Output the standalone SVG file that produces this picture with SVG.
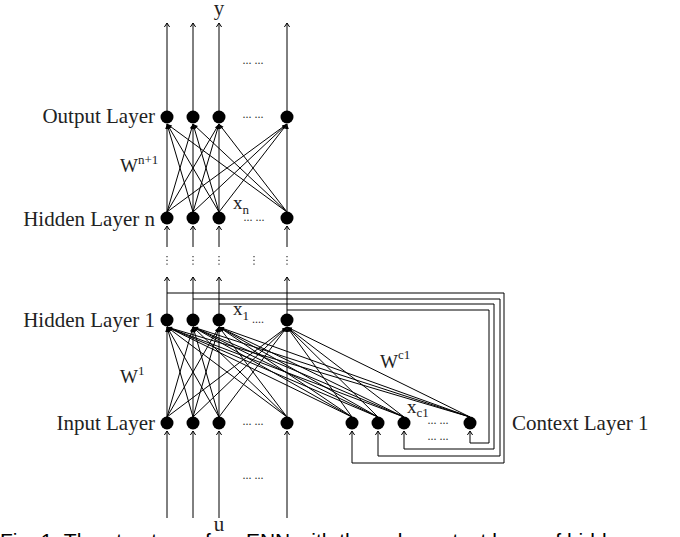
<svg xmlns="http://www.w3.org/2000/svg" width="680" height="537" viewBox="0 0 680 537">
<style>
.ln{stroke:#000;stroke-width:1;fill:none}
.nd{fill:#000}
.lbl{font-family:"Liberation Serif","Times New Roman",serif;font-size:21px;fill:#222}
.w{font-family:"Liberation Serif","Times New Roman",serif;font-size:19px;fill:#222}
.sup{font-size:13px}
.dots{font-family:"Liberation Serif",serif;font-size:12px;fill:#333}
.vd{stroke:#444;stroke-width:1.3;stroke-dasharray:1.3 2.4;fill:none}
.cap{font-family:"Liberation Sans",Arial,sans-serif;font-size:21px;fill:#000}
</style>
<defs>
<marker id="ao" viewBox="-6 -4 7 8" refX="0" refY="0" markerWidth="7" markerHeight="8" markerUnits="userSpaceOnUse" orient="auto">
<path d="M-4,-2.6 L0,0 L-4,2.6" stroke="#000" stroke-width="1" fill="none"/>
</marker>
<marker id="af" viewBox="-6 -3 7 6" refX="0" refY="0" markerWidth="7" markerHeight="6" markerUnits="userSpaceOnUse" orient="auto">
<path d="M-5,-1.8 L0,0 L-5,1.8 z" fill="#000"/>
</marker>
</defs>

<g id="connectors">
<g class="ln" marker-end="url(#ao)">
<line x1="167" y1="117" x2="167" y2="23"/>
<line x1="193" y1="117" x2="193" y2="23"/>
<line x1="219" y1="117" x2="219" y2="23"/>
<line x1="287" y1="117" x2="287" y2="23"/>
<line x1="167" y1="247" x2="167" y2="226"/>
<line x1="193" y1="247" x2="193" y2="226"/>
<line x1="219" y1="247" x2="219" y2="226"/>
<line x1="287" y1="247" x2="287" y2="226"/>
<line x1="167" y1="314" x2="167" y2="277"/>
<line x1="193" y1="314" x2="193" y2="277"/>
<line x1="219" y1="314" x2="219" y2="277"/>
<line x1="287" y1="314" x2="287" y2="277"/>
<line x1="167" y1="518" x2="167" y2="431"/>
<line x1="193" y1="518" x2="193" y2="431"/>
<line x1="219" y1="518" x2="219" y2="431"/>
<line x1="287" y1="518" x2="287" y2="431"/>
<polyline points="167,293 504,293 504,463 352,463 352,431"/>
<polyline points="193,299 500,299 500,456 378,456 378,431"/>
<polyline points="219,304 494,304 494,449 404,449 404,431"/>
<polyline points="287,310 489,310 489,443 470,443 470,431"/>
</g>
<g class="ln" marker-end="url(#af)">
<line x1="167" y1="212" x2="167" y2="124"/>
<line x1="167" y1="212" x2="193" y2="124"/>
<line x1="167" y1="212" x2="219" y2="124"/>
<line x1="167" y1="212" x2="287" y2="124"/>
<line x1="193" y1="212" x2="167" y2="124"/>
<line x1="193" y1="212" x2="193" y2="124"/>
<line x1="193" y1="212" x2="219" y2="124"/>
<line x1="193" y1="212" x2="287" y2="124"/>
<line x1="219" y1="212" x2="167" y2="124"/>
<line x1="219" y1="212" x2="193" y2="124"/>
<line x1="219" y1="212" x2="219" y2="124"/>
<line x1="219" y1="212" x2="287" y2="124"/>
<line x1="287" y1="212" x2="167" y2="124"/>
<line x1="287" y1="212" x2="193" y2="124"/>
<line x1="287" y1="212" x2="219" y2="124"/>
<line x1="287" y1="212" x2="287" y2="124"/>
<line x1="167" y1="417" x2="167" y2="327"/>
<line x1="167" y1="417" x2="193" y2="327"/>
<line x1="167" y1="417" x2="219" y2="327"/>
<line x1="167" y1="417" x2="287" y2="327"/>
<line x1="193" y1="417" x2="167" y2="327"/>
<line x1="193" y1="417" x2="193" y2="327"/>
<line x1="193" y1="417" x2="219" y2="327"/>
<line x1="193" y1="417" x2="287" y2="327"/>
<line x1="219" y1="417" x2="167" y2="327"/>
<line x1="219" y1="417" x2="193" y2="327"/>
<line x1="219" y1="417" x2="219" y2="327"/>
<line x1="219" y1="417" x2="287" y2="327"/>
<line x1="287" y1="417" x2="167" y2="327"/>
<line x1="287" y1="417" x2="193" y2="327"/>
<line x1="287" y1="417" x2="219" y2="327"/>
<line x1="287" y1="417" x2="287" y2="327"/>
<line x1="352" y1="417" x2="167" y2="327"/>
<line x1="352" y1="417" x2="193" y2="327"/>
<line x1="352" y1="417" x2="219" y2="327"/>
<line x1="352" y1="417" x2="287" y2="327"/>
<line x1="378" y1="417" x2="167" y2="327"/>
<line x1="378" y1="417" x2="193" y2="327"/>
<line x1="378" y1="417" x2="219" y2="327"/>
<line x1="378" y1="417" x2="287" y2="327"/>
<line x1="404" y1="417" x2="167" y2="327"/>
<line x1="404" y1="417" x2="193" y2="327"/>
<line x1="404" y1="417" x2="219" y2="327"/>
<line x1="404" y1="417" x2="287" y2="327"/>
<line x1="470" y1="417" x2="167" y2="327"/>
<line x1="470" y1="417" x2="193" y2="327"/>
<line x1="470" y1="417" x2="219" y2="327"/>
<line x1="470" y1="417" x2="287" y2="327"/>
</g>
</g>

<g id="output-layer">
<circle class="nd" cx="167" cy="117" r="6.5"/>
<circle class="nd" cx="193" cy="117" r="6.5"/>
<circle class="nd" cx="219" cy="117" r="6.5"/>
<circle class="nd" cx="287" cy="117" r="6.5"/>
<text class="lbl" x="155" y="123" text-anchor="end">Output Layer</text>
<text class="dots" x="253" y="118" text-anchor="middle">... ...</text>
<text class="dots" x="253" y="64" text-anchor="middle">... ...</text>
<text class="lbl" x="219" y="15" text-anchor="middle">y</text>
</g>

<g id="hidden-layer-n">
<circle class="nd" cx="167" cy="218" r="6.5"/>
<circle class="nd" cx="193" cy="218" r="6.5"/>
<circle class="nd" cx="219" cy="218" r="6.5"/>
<circle class="nd" cx="287" cy="218" r="6.5"/>
<text class="lbl" x="155" y="226" text-anchor="end">Hidden Layer n</text>
<text class="w" x="233" y="209">x<tspan class="sup" dy="5">n</tspan></text>
<text class="dots" x="254" y="221" text-anchor="middle">... ...</text>
<text class="w" x="120" y="172">W<tspan class="sup" dy="-8">n+1</tspan></text>
</g>

<g id="ellipsis">
<line class="vd" x1="167" y1="256" x2="167" y2="267"/>
<line class="vd" x1="193" y1="256" x2="193" y2="267"/>
<line class="vd" x1="219" y1="256" x2="219" y2="267"/>
<line class="vd" x1="254" y1="256" x2="254" y2="267"/>
<line class="vd" x1="287" y1="256" x2="287" y2="267"/>
</g>

<g id="hidden-layer-1">
<circle class="nd" cx="167" cy="320" r="6.5"/>
<circle class="nd" cx="193" cy="320" r="6.5"/>
<circle class="nd" cx="219" cy="320" r="6.5"/>
<circle class="nd" cx="287" cy="320" r="6.5"/>
<text class="lbl" x="155" y="327" text-anchor="end">Hidden Layer 1</text>
<text class="w" x="233" y="315">x<tspan class="sup" dy="5">1</tspan></text>
<text class="dots" x="258" y="323" text-anchor="middle">....</text>
<text class="w" x="120" y="383">W<tspan class="sup" dy="-8">1</tspan></text>
</g>

<g id="input-layer">
<circle class="nd" cx="167" cy="423" r="6.5"/>
<circle class="nd" cx="193" cy="423" r="6.5"/>
<circle class="nd" cx="219" cy="423" r="6.5"/>
<circle class="nd" cx="287" cy="423" r="6.5"/>
<text class="lbl" x="155" y="430" text-anchor="end">Input Layer</text>
<text class="dots" x="253" y="425" text-anchor="middle">... ...</text>
<text class="dots" x="253" y="479" text-anchor="middle">... ...</text>
<text class="lbl" x="219" y="531" text-anchor="middle">u</text>
</g>

<g id="context-layer-1">
<circle class="nd" cx="352" cy="423" r="6.5"/>
<circle class="nd" cx="378" cy="423" r="6.5"/>
<circle class="nd" cx="404" cy="423" r="6.5"/>
<circle class="nd" cx="470" cy="423" r="6.5"/>
<text class="lbl" x="512" y="430">Context Layer 1</text>
<text class="w" x="407" y="413">x<tspan class="sup" dy="4">c1</tspan></text>
<text class="dots" x="438" y="424" text-anchor="middle">... ...</text>
<text class="dots" x="438" y="440" text-anchor="middle">... ...</text>
<text class="w" x="380" y="368">W<tspan class="sup" dy="-9">c1</tspan></text>
</g>

<text class="cap" x="0" y="548">Fig. 1. The structure of an ENN with the only context layer of hidden</text>
</svg>
